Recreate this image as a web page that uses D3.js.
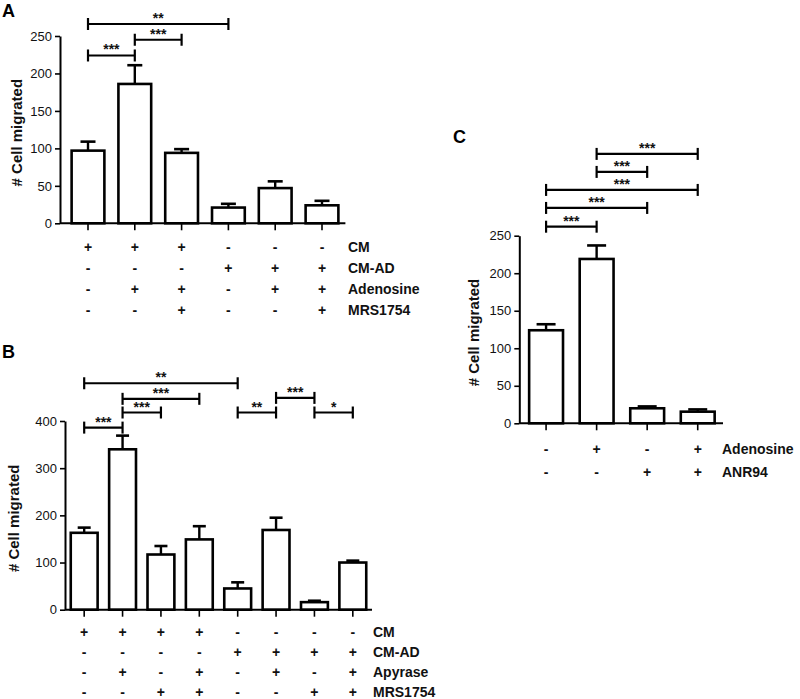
<!DOCTYPE html>
<html>
<head>
<meta charset="utf-8">
<script src="https://cdn.jsdelivr.net/npm/d3@7"></script>
<style>
  html, body { margin: 0; padding: 0; background: #fff; }
  svg { display: block; font-family: "Liberation Sans", Arial, Helvetica, sans-serif; }
</style>
</head>
<body>
<svg id="chart" width="800" height="699"></svg>
<script>
// ---------- Panel A data ----------
const aGroups = ["g1", "g2", "g3", "g4", "g5", "g6"];
const aValues = [97, 186, 94, 21, 47, 24];
const aErrors = [12, 25, 5, 5, 9, 6];
const aRowLabels = ["CM", "CM-AD", "Adenosine", "MRS1754"];
const aRows = [
  ["+", "+", "+", "-", "-", "-"],
  ["-", "-", "-", "+", "+", "+"],
  ["-", "+", "+", "-", "+", "+"],
  ["-", "-", "+", "-", "-", "+"]
];
const aTicks = [0, 50, 100, 150, 200, 250];
// [from index, to index, label, level in data units]
const aBrackets = [
  [0, 3, "**", 266],
  [1, 2, "***", 245],
  [0, 1, "***", 224]
];

// ---------- Panel B data ----------
const bGroups = ["g1", "g2", "g3", "g4", "g5", "g6", "g7", "g8"];
const bValues = [163, 340, 117, 149, 45, 169, 16, 100];
const bErrors = [11, 29, 18, 28, 13, 26, 3, 4];
const bRowLabels = ["CM", "CM-AD", "Apyrase", "MRS1754"];
const bRows = [
  ["+", "+", "+", "+", "-", "-", "-", "-"],
  ["-", "-", "-", "-", "+", "+", "+", "+"],
  ["-", "+", "-", "+", "-", "+", "-", "+"],
  ["-", "-", "+", "+", "-", "-", "+", "+"]
];
const bTicks = [0, 100, 200, 300, 400];
const bBrackets = [
  [0, 4, "**", 480],
  [1, 3, "***", 447],
  [1, 2, "***", 418],
  [0, 1, "***", 386],
  [4, 5, "**", 418],
  [5, 6, "***", 449],
  [6, 7, "*", 418]
];

// ---------- Panel C data ----------
const cGroups = ["g1", "g2", "g3", "g4"];
const cValues = [124, 219, 20, 15.5];
const cErrors = [8, 18, 2.5, 3];
const cRowLabels = ["Adenosine", "ANR94"];
const cRows = [
  ["-", "+", "-", "+"],
  ["-", "-", "+", "+"]
];
const cTicks = [0, 50, 100, 150, 200, 250];
const cBrackets = [
  [1, 3, "***", 359],
  [1, 2, "***", 335],
  [0, 3, "***", 311],
  [0, 2, "***", 287],
  [0, 1, "***", 262]
];

const svg = d3.select("#chart");

function panel(cfg) {
  const g = svg.append("g");
  const x = d3.scaleBand().domain(cfg.groups).range([cfg.x0, cfg.x1])
    .paddingInner(cfg.pad).paddingOuter(cfg.pad / 2);
  const y = d3.scaleLinear().domain([0, cfg.yMax]).range([cfg.y0, cfg.yTop]);
  const cx = i => x(cfg.groups[i]) + x.bandwidth() / 2;

  // y axis
  const ya = g.append("g").attr("transform", `translate(${cfg.axisX},0)`)
    .call(d3.axisLeft(y).tickValues(cfg.ticks).tickSize(5).tickPadding(3).tickSizeOuter(0));
  ya.select(".domain").attr("stroke", "#000").attr("stroke-width", 2);
  ya.selectAll(".tick line").attr("stroke", "#000").attr("stroke-width", 1.6);
  ya.selectAll(".tick text").attr("font-size", 13).attr("fill", "#111")
    .attr("font-family", "Liberation Sans, Arial, sans-serif");

  // bars
  g.selectAll("rect.bar").data(cfg.values).join("rect")
    .attr("class", "bar")
    .attr("x", (d, i) => x(cfg.groups[i]))
    .attr("width", x.bandwidth())
    .attr("y", d => y(d))
    .attr("height", d => y(0) - y(d))
    .attr("fill", "#fff").attr("stroke", "#000").attr("stroke-width", 2.6);

  // error bars (upper)
  const eb = g.selectAll("g.err").data(cfg.values).join("g").attr("class", "err");
  eb.append("line")
    .attr("x1", (d, i) => cx(i)).attr("x2", (d, i) => cx(i))
    .attr("y1", d => y(d)).attr("y2", (d, i) => y(d + cfg.errors[i]))
    .attr("stroke", "#000").attr("stroke-width", 2.4);
  eb.append("line")
    .attr("x1", (d, i) => cx(i) - cfg.cap / 2).attr("x2", (d, i) => cx(i) + cfg.cap / 2)
    .attr("y1", (d, i) => y(d + cfg.errors[i])).attr("y2", (d, i) => y(d + cfg.errors[i]))
    .attr("stroke", "#000").attr("stroke-width", 2.6);

  // x baseline and ticks
  g.append("line").attr("x1", cfg.axisX).attr("x2", cfg.x1)
    .attr("y1", y(0)).attr("y2", y(0)).attr("stroke", "#000").attr("stroke-width", 2);
  const xa = g.append("g").attr("transform", `translate(0,${y(0)})`)
    .call(d3.axisBottom(x).tickSize(7).tickSizeOuter(0).tickFormat(""));
  xa.select(".domain").remove();
  xa.selectAll(".tick line").attr("stroke", "#000").attr("stroke-width", 1.6);

  // y label
  g.append("text")
    .attr("transform", `translate(${cfg.labelX},${(cfg.y0 + cfg.yTop) / 2 + 3}) rotate(-90)`)
    .attr("text-anchor", "middle").attr("dy", "0.35em")
    .attr("font-size", 15).attr("font-weight", "bold").attr("fill", "#111")
    .text("# Cell migrated");

  // condition table
  cfg.rows.forEach((row, r) => {
    const ry = cfg.rowY0 + r * cfg.rowStep;
    row.forEach((s, i) => {
      g.append("text").attr("x", cx(i)).attr("y", ry).attr("dy", "0.35em")
        .attr("text-anchor", "middle").attr("font-size", 14).attr("font-weight", "bold")
        .attr("fill", "#111").text(s);
    });
    g.append("text").attr("x", cfg.rowLabelX).attr("y", ry).attr("dy", "0.35em")
      .attr("font-size", 14).attr("font-weight", "bold").attr("fill", "#111")
      .text(cfg.rowLabels[r]);
  });

  // significance brackets
  cfg.brackets.forEach(([a, b, lab, lvl]) => {
    const yy = y(lvl);
    const xa1 = cx(a), xb1 = cx(b);
    g.append("line").attr("x1", xa1).attr("x2", xb1).attr("y1", yy).attr("y2", yy)
      .attr("stroke", "#000").attr("stroke-width", 2.2);
    [xa1, xb1].forEach(xx => g.append("line").attr("x1", xx).attr("x2", xx)
      .attr("y1", yy - 6).attr("y2", yy + 6).attr("stroke", "#000").attr("stroke-width", 2.2));
    g.append("text").attr("x", (xa1 + xb1) / 2).attr("y", yy - 1)
      .attr("text-anchor", "middle").attr("font-size", 14).attr("font-weight", "bold")
      .attr("fill", "#111").text(lab);
  });

  // panel letter
  g.append("text").attr("x", cfg.letterX).attr("y", cfg.letterY)
    .attr("font-size", 18).attr("font-weight", "bold").attr("fill", "#000").text(cfg.letter);
}

panel({
  letter: "A", letterX: 2, letterY: 17,
  groups: aGroups, values: aValues, errors: aErrors, rows: aRows, rowLabels: aRowLabels,
  ticks: aTicks, brackets: aBrackets, yMax: 250,
  x0: 64.6, x1: 345.4, axisX: 60, y0: 223.3, yTop: 36, pad: 0.3, cap: 15,
  labelX: 17, rowY0: 246.6, rowStep: 21.3, rowLabelX: 348
});

panel({
  letter: "B", letterX: 2, letterY: 358,
  groups: bGroups, values: bValues, errors: bErrors, rows: bRows, rowLabels: bRowLabels,
  ticks: bTicks, brackets: bBrackets, yMax: 400,
  x0: 65, x1: 372, axisX: 65, y0: 609.7, yTop: 421, pad: 0.3, cap: 13,
  labelX: 14, rowY0: 631.8, rowStep: 20, rowLabelX: 373
});

panel({
  letter: "C", letterX: 453, letterY: 143,
  groups: cGroups, values: cValues, errors: cErrors, rows: cRows, rowLabels: cRowLabels,
  ticks: cTicks, brackets: cBrackets, yMax: 250,
  x0: 520.8, x1: 723, axisX: 519.3, y0: 423.3, yTop: 235.7, pad: 0.33, cap: 19,
  labelX: 474, rowY0: 449.3, rowStep: 22.4, rowLabelX: 722
});
</script>
</body>
</html>
